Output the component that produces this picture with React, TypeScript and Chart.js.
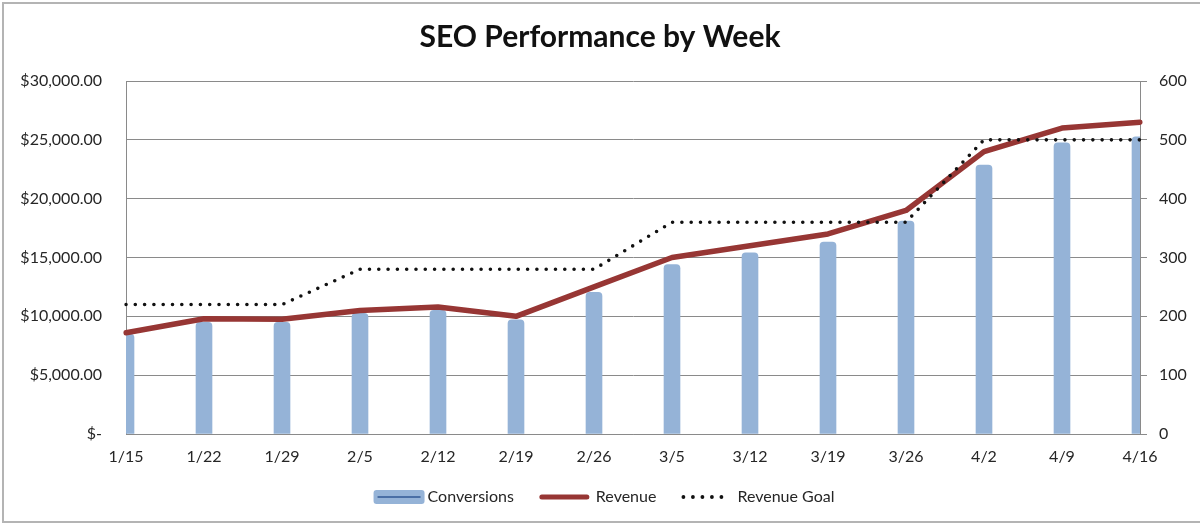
import { useEffect, useRef } from "react";
import { Chart, registerables } from "chart.js";

Chart.register(...registerables);

// Weekly SEO figures
const weeks = ["1/15", "1/22", "1/29", "2/5", "2/12", "2/19", "2/26", "3/5", "3/12", "3/19", "3/26", "4/2", "4/9", "4/16"];
const conversions = [170, 190, 190, 205, 210, 194, 241, 288, 308, 326, 362, 457, 495, 505];
const revenue = [8600, 9800, 9750, 10500, 10800, 10000, 12500, 15000, 16000, 17000, 19000, 24000, 26000, 26500];
const revenueGoal = [11000, 11000, 11000, 14000, 14000, 14000, 14000, 18000, 18000, 18000, 18000, 25000, 25000, 25000];

const revenueMax = 30000;
const revenueStep = 5000;
const conversionMax = 600;
const conversionStep = 100;

const titleText = "SEO Performance by Week";
const seriesNames = ["Conversions", "Revenue", "Revenue Goal"];

const FONT = "Lato, 'Open Sans', 'DejaVu Sans', sans-serif";
const TEXT_COLOR = "#262626";
const AXIS_COLOR = "#8a8a8a";
const BAR_COLOR = "#95B3D7";
const BAR_LINE = "#4A6FA5";
const RED = "#973634";

function formatDollars(v: number): string {
  if (v === 0) return "$-";
  return "$" + v.toLocaleString("en-US", { minimumFractionDigits: 2, maximumFractionDigits: 2 });
}

// Frame, title and legend drawn around the plot
const decorPlugin = {
  id: "decor",
  beforeDraw(chart: any) {
    const ctx = chart.ctx as CanvasRenderingContext2D;
    ctx.save();
    ctx.fillStyle = "#ffffff";
    ctx.fillRect(0, 0, chart.width, chart.height);
    ctx.strokeStyle = "#b4b4b4";
    ctx.lineWidth = 2;
    ctx.beginPath();
    ctx.moveTo(chart.width + 2, 3);
    ctx.lineTo(3, 3);
    ctx.lineTo(3, 522);
    ctx.lineTo(chart.width + 2, 522);
    ctx.stroke();
    ctx.restore();
  },
  afterDraw(chart: any) {
    const ctx = chart.ctx as CanvasRenderingContext2D;
    ctx.save();
    // title
    ctx.fillStyle = "#111111";
    ctx.font = `bold 30px ${FONT}`;
    ctx.textAlign = "center";
    ctx.textBaseline = "alphabetic";
    ctx.fillText(titleText, chart.width / 2, 47);

    // legend
    ctx.font = `16px ${FONT}`;
    ctx.textAlign = "left";
    ctx.textBaseline = "middle";
    const cy = 497;
    const items = [
      { sym: 51, gapSym: 3, gapAfter: 25 },
      { sym: 51, gapSym: 6, gapAfter: 25 },
      { sym: 42, gapSym: 14, gapAfter: 0 },
    ];
    let total = 0;
    items.forEach((it, i) => {
      total += it.sym + it.gapSym + ctx.measureText(seriesNames[i]).width + it.gapAfter;
    });
    let x = chart.width / 2 + 4 - total / 2;
    items.forEach((it, i) => {
      if (i === 0) {
        ctx.fillStyle = BAR_COLOR;
        ctx.beginPath();
        (ctx as any).roundRect(x, cy - 7, it.sym, 14, 3);
        ctx.fill();
        ctx.strokeStyle = BAR_LINE;
        ctx.lineWidth = 2;
        ctx.beginPath();
        ctx.moveTo(x + 4, cy);
        ctx.lineTo(x + it.sym - 4, cy);
        ctx.stroke();
      } else if (i === 1) {
        ctx.strokeStyle = RED;
        ctx.lineWidth = 5;
        ctx.lineCap = "round";
        ctx.beginPath();
        ctx.moveTo(x + 3, cy);
        ctx.lineTo(x + it.sym - 3, cy);
        ctx.stroke();
      } else {
        ctx.fillStyle = "#111111";
        for (let k = 0; k < 5; k++) {
          ctx.beginPath();
          ctx.arc(x + 2 + k * 9.5, cy, 1.9, 0, Math.PI * 2);
          ctx.fill();
        }
      }
      x += it.sym + it.gapSym;
      ctx.fillStyle = TEXT_COLOR;
      ctx.fillText(seriesNames[i], x, cy);
      x += ctx.measureText(seriesNames[i]).width + it.gapAfter;
    });
    ctx.restore();
  },
};

export default function App() {
  const canvasRef = useRef<HTMLCanvasElement | null>(null);

  useEffect(() => {
    const canvas = canvasRef.current;
    if (!canvas) return;
    const tickFont = { family: FONT, size: 16 };
    const chart = new Chart(canvas, {
      type: "bar",
      data: {
        labels: weeks,
        datasets: [
          {
            type: "line",
            label: seriesNames[2],
            data: revenueGoal,
            yAxisID: "y",
            borderColor: "#111111",
            borderWidth: 3.6,
            borderDash: [0, 9.3],
            borderCapStyle: "round",
            borderJoinStyle: "round",
            pointRadius: 0,
            tension: 0,
            fill: false,
            order: 0,
          },
          {
            type: "line",
            label: seriesNames[1],
            data: revenue,
            yAxisID: "y",
            borderColor: RED,
            borderWidth: 5.5,
            borderCapStyle: "round",
            borderJoinStyle: "round",
            pointRadius: 0,
            tension: 0,
            fill: false,
            order: 1,
          },
          {
            type: "bar",
            label: seriesNames[0],
            data: conversions,
            yAxisID: "y1",
            backgroundColor: BAR_COLOR,
            barThickness: 16,
            borderRadius: 4,
            borderSkipped: "start",
            clip: 0,
            order: 2,
          },
        ],
      },
      options: {
        responsive: false,
        maintainAspectRatio: false,
        animation: false,
        events: [],
        layout: { padding: { top: 81, left: 0, right: 0, bottom: 0 } },
        plugins: {
          legend: { display: false },
          title: { display: false },
          tooltip: { enabled: false },
        },
        scales: {
          x: {
            type: "category",
            offset: false,
            grid: { display: false, drawTicks: false },
            border: { display: true, color: AXIS_COLOR, width: 1 },
            ticks: { color: TEXT_COLOR, font: tickFont, padding: 13, maxRotation: 0, autoSkip: false },
            afterFit: (s: any) => {
              s.height = 92;
            },
          },
          y: {
            position: "left",
            min: 0,
            max: revenueMax,
            ticks: {
              stepSize: revenueStep,
              color: TEXT_COLOR,
              font: tickFont,
              padding: 24,
              callback: (v: any) => formatDollars(Number(v)),
            },
            grid: { color: AXIS_COLOR, lineWidth: 1, drawTicks: false },
            border: { display: true, color: AXIS_COLOR, width: 1 },
            afterFit: (s: any) => {
              s.width = 126;
            },
          },
          y1: {
            position: "right",
            min: 0,
            max: conversionMax,
            ticks: { stepSize: conversionStep, color: TEXT_COLOR, font: tickFont, padding: 12 },
            grid: { drawOnChartArea: false, drawTicks: true, tickLength: 7, color: AXIS_COLOR },
            border: { display: true, color: AXIS_COLOR, width: 1 },
            afterFit: (s: any) => {
              s.width = 60;
            },
          },
        },
      } as any,
      plugins: [decorPlugin],
    });
    return () => chart.destroy();
  }, []);

  return (
    <div style={{ position: "absolute", left: 0, top: 0, width: 1200, height: 526, background: "#fff" }}>
      <canvas ref={canvasRef} width={1200} height={526} style={{ display: "block", width: 1200, height: 526 }} />
    </div>
  );
}
